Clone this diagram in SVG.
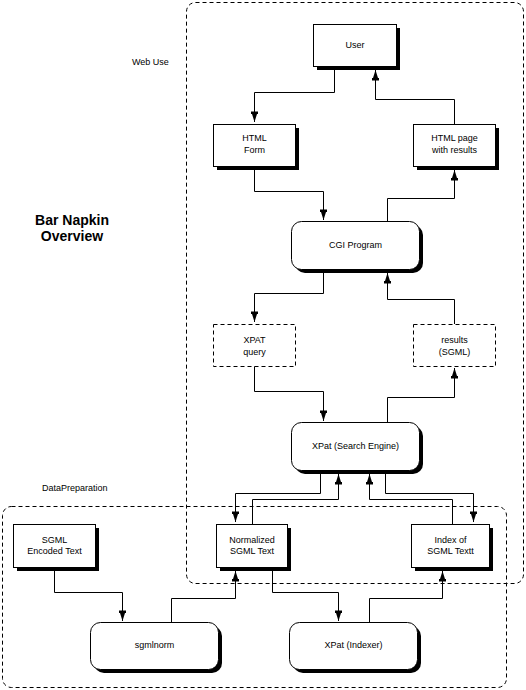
<svg xmlns="http://www.w3.org/2000/svg" width="526" height="690" viewBox="0 0 526 690">
<style>
text{font-family:"Liberation Sans",Arial,sans-serif;font-size:9px;fill:#000;text-anchor:middle}
.lbl{text-anchor:start}
.title{font-size:14px;font-weight:bold}
.box{fill:#fff;stroke:#000;stroke-width:1}
.dbox{fill:#fff;stroke:#000;stroke-width:1;stroke-dasharray:4,3}
.sh{fill:#000}
.cont{fill:none;stroke:#000;stroke-width:1;stroke-dasharray:4,3}
.c{fill:none;stroke:#000;stroke-width:1;marker-end:url(#ah)}
</style>
<defs>
<marker id="ah" markerUnits="userSpaceOnUse" viewBox="-11 -4 12 8" refX="0" refY="0" markerWidth="12" markerHeight="8" orient="auto">
<polygon points="0,0 -8,-2.5 -8,-3.5 -10.5,-3.5 -10.5,3.5 -8,3.5 -8,2.5" fill="#000"/>
</marker>
</defs>
<rect width="526" height="690" fill="#fff"/>
<g id="containers">
<rect class="cont" x="186.5" y="2.5" width="337" height="581" rx="9"/>
<rect class="cont" x="2.5" y="506.5" width="504" height="181" rx="9"/>
<text class="lbl" x="132" y="65">Web Use</text>
<text class="lbl" x="42" y="491">DataPreparation</text>
</g>
<g id="title">
<text class="title" x="72" y="225">Bar Napkin</text>
<text class="title" x="72" y="241">Overview</text>
</g>
<g id="connectors">
<path class="c" d="M334.5,66 V92.5 H254.5 V122"/>
<path class="c" d="M454.5,124 V99.5 H375.5 V70"/>
<path class="c" d="M254.5,166 V191.5 H323.5 V220"/>
<path class="c" d="M387.5,221 V198.5 H454.5 V170"/>
<path class="c" d="M323.5,269 V293.5 H254.5 V322"/>
<path class="c" d="M454.5,324 V299.5 H387.5 V273"/>
<path class="c" d="M254.5,366 V391.5 H323.5 V421"/>
<path class="c" d="M387.5,422 V397.5 H454.5 V368"/>
<path class="c" d="M320.5,470 V493.5 H235.5 V522"/>
<path class="c" d="M252.5,524 V499.5 H338.5 V474"/>
<path class="c" d="M452.5,524 V499.5 H369.5 V474"/>
<path class="c" d="M385.5,474 V493.5 H473.5 V522"/>
<path class="c" d="M54.5,567 V592.5 H122.5 V621"/>
<path class="c" d="M171.5,622 V598.5 H235.5 V571"/>
<path class="c" d="M272.5,567 V592.5 H338.5 V621"/>
<path class="c" d="M369.5,622 V598.5 H442.5 V571"/>
</g>
<g id="user">
<rect class="sh" x="317" y="28" width="83" height="42"/>
<rect class="box" x="313.5" y="24.5" width="83" height="42"/>
<text x="355" y="48">User</text>
</g>
<g id="htmlform">
<rect class="sh" x="217" y="128" width="82" height="42"/>
<rect class="box" x="213.5" y="124.5" width="82" height="42"/>
<text x="254.5" y="141">HTML</text>
<text x="254.5" y="153">Form</text>
</g>
<g id="htmlpage">
<rect class="sh" x="417" y="128" width="82" height="42"/>
<rect class="box" x="413.5" y="124.5" width="82" height="42"/>
<text x="454.5" y="141">HTML page</text>
<text x="454.5" y="153">with results</text>
</g>
<g id="cgi">
<rect class="sh" x="295" y="225" width="128" height="48" rx="10"/>
<rect class="box" x="291.5" y="221.5" width="128" height="48" rx="10"/>
<text x="355.5" y="248">CGI Program</text>
</g>
<g id="xpatquery">
<rect class="dbox" x="213.5" y="324.5" width="82" height="42"/>
<text x="254.5" y="343">XPAT</text>
<text x="254.5" y="355">query</text>
</g>
<g id="results">
<rect class="dbox" x="413.5" y="324.5" width="82" height="42"/>
<text x="454.5" y="343">results</text>
<text x="454.5" y="355">(SGML)</text>
</g>
<g id="xpatsearch">
<rect class="sh" x="295" y="426" width="128" height="48" rx="10"/>
<rect class="box" x="291.5" y="422.5" width="128" height="48" rx="10"/>
<text x="355.5" y="449">XPat (Search Engine)</text>
</g>
<g id="sgmlencoded">
<rect class="sh" x="17" y="528" width="82" height="43"/>
<rect class="box" x="13.5" y="524.5" width="82" height="43"/>
<text x="54.5" y="543">SGML</text>
<text x="54.5" y="554">Encoded Text</text>
</g>
<g id="normalized">
<rect class="sh" x="220" y="528" width="71" height="43"/>
<rect class="box" x="216.5" y="524.5" width="71" height="43"/>
<text x="252" y="543">Normalized</text>
<text x="252" y="554">SGML Text</text>
</g>
<g id="index">
<rect class="sh" x="415" y="528" width="78" height="43"/>
<rect class="box" x="411.5" y="524.5" width="78" height="43"/>
<text x="450.5" y="543">Index of</text>
<text x="450.5" y="554">SGML Textt</text>
</g>
<g id="sgmlnorm">
<rect class="sh" x="94" y="626" width="128" height="47" rx="10"/>
<rect class="box" x="90.5" y="622.5" width="128" height="47" rx="10"/>
<text x="154.5" y="648">sgmlnorm</text>
</g>
<g id="xpatindexer">
<rect class="sh" x="293" y="626" width="128" height="47" rx="10"/>
<rect class="box" x="289.5" y="622.5" width="128" height="47" rx="10"/>
<text x="353.5" y="648">XPat (Indexer)</text>
</g>
</svg>
